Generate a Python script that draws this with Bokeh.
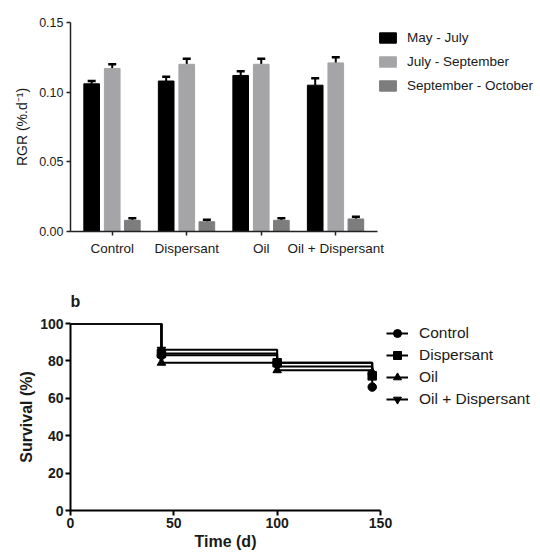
from bokeh.plotting import figure
from bokeh.layouts import column
from bokeh.models import (ColumnDataSource, FactorRange, Range1d, FixedTicker,
                          NumeralTickFormatter, Legend, LegendItem, Whisker, TeeHead)
from bokeh.transform import dodge
from bokeh.embed import file_html
from bokeh.resources import INLINE

# ---------------- data: panel a (RGR) ----------------
treatments = ["Control", "Dispersant", "Oil", "Oil + Dispersant"]
periods = ["May - July", "July - September", "September - October"]
rgr_may_july = [0.106, 0.108, 0.112, 0.105]
rgr_july_sept = [0.117, 0.120, 0.120, 0.121]
rgr_sept_oct = [0.008, 0.007, 0.008, 0.009]
err_may_july = [0.002, 0.003, 0.003, 0.005]
err_july_sept = [0.003, 0.004, 0.004, 0.004]
err_sept_oct = [0.0015, 0.0015, 0.0015, 0.0015]
rgr_ticks = [0.0, 0.05, 0.10, 0.15]

# ---------------- data: panel b (survival) ----------------
groups = ["Control", "Dispersant", "Oil", "Oil + Dispersant"]
time_d = [0, 44, 100, 146]
surv_control = [100, 83, 79, 66]
surv_dispersant = [100, 84, 79, 72]
surv_oil = [100, 79, 75, 74]
surv_oil_disp = [100, 86, 77, 72]
time_ticks = [0, 50, 100, 150]
surv_ticks = [0, 20, 40, 60, 80, 100]

FONT = "Liberation Sans"
TXT = "#1a1a1a"

# ================= panel a =================
FH1 = 209
p1 = figure(x_range=FactorRange(*treatments, range_padding=0.03),
            y_range=Range1d(0, 0.15), frame_width=307, frame_height=FH1,
            output_backend="svg", toolbar_location=None,
            min_border_left=70, min_border_right=150,
            min_border_top=22, min_border_bottom=31)
p1.outline_line_color = None
p1.xgrid.grid_line_color = None
p1.ygrid.grid_line_color = None

bar_colors = ["#000000", "#a5a5a8", "#7d7d7d"]
offsets = [-0.276, 0.0, 0.27]
series = [rgr_may_july, rgr_july_sept, rgr_sept_oct]
errors = [err_may_july, err_july_sept, err_sept_oct]

legend_items = []
for name, vals, errs, col, off in zip(periods, series, errors, bar_colors, offsets):
    src = ColumnDataSource(dict(cat=treatments, val=vals,
                                up=[v + e for v, e in zip(vals, errs)]))
    r = p1.vbar(x=dodge("cat", off, range=p1.x_range), top="val", width=0.21,
                source=src, fill_color=col, line_color=col)
    w = Whisker(base=dodge("cat", off, range=p1.x_range), lower="val", upper="up",
                source=src, line_color="black", line_width=2,
                lower_head=None,
                upper_head=TeeHead(size=8, line_color="black", line_width=2.5))
    p1.add_layout(w)
    legend_items.append(LegendItem(label=name, renderers=[r]))

leg1_h = 3 * 22 + 2 * 2
leg1 = Legend(items=legend_items, location=(0, FH1 - leg1_h - 4), margin=0,
              padding=0, border_line_color=None, background_fill_alpha=0,
              glyph_width=21, glyph_height=13, label_height=22, spacing=2,
              label_standoff=9, label_text_font=FONT,
              label_text_font_size="13.5px", label_text_color=TXT)
p1.add_layout(leg1, "right")

ya = p1.yaxis[0]
ya.ticker = FixedTicker(ticks=rgr_ticks)
ya.formatter = NumeralTickFormatter(format="0.00")
ya.axis_label = "RGR (%.d\u207b\u00b9)"
for ax in (p1.xaxis[0], ya):
    ax.axis_line_width = 1.5
    ax.axis_line_color = "#222222"
    ax.major_tick_line_width = 1.5
    ax.major_tick_line_color = "#222222"
    ax.major_tick_out = 4
    ax.major_tick_in = 0
    ax.minor_tick_line_color = None
    ax.major_label_text_font = FONT
    ax.major_label_text_color = TXT
    ax.axis_label_text_font = FONT
    ax.axis_label_text_color = TXT
    ax.axis_label_text_font_style = "normal"
ya.major_label_text_font_size = "12.5px"
ya.axis_label_text_font_size = "14px"
ya.axis_label_standoff = 6
ya.major_label_standoff = 3
p1.xaxis[0].major_label_text_font_size = "13.5px"
p1.xaxis[0].major_label_standoff = 5

# ================= panel b =================
FH2 = 187
p2 = figure(x_range=Range1d(0, 150), y_range=Range1d(0, 100),
            frame_width=310, frame_height=FH2, output_backend="svg",
            toolbar_location=None,
            min_border_left=69, min_border_right=150,
            min_border_top=61, min_border_bottom=38, title="b")
p2.outline_line_color = None
p2.xgrid.grid_line_color = None
p2.ygrid.grid_line_color = None
p2.title.text_font = FONT
p2.title.text_font_style = "bold"
p2.title.text_font_size = "16px"
p2.title.text_color = TXT
p2.title.align = "left"
p2.title.standoff = 27

markers = ["circle", "square", "triangle", "inverted_triangle"]
surv_series = [surv_control, surv_dispersant, surv_oil, surv_oil_disp]
items2 = []
for name, s, m in zip(groups, surv_series, markers):
    src = ColumnDataSource(dict(t=time_d, s=s))
    ln = p2.step(x="t", y="s", mode="after", source=src, line_color="black",
                 line_width=2)
    msrc = ColumnDataSource(dict(t=time_d[1:], s=s[1:]))
    sc = p2.scatter(x="t", y="s", marker=m, size=8.5, source=msrc,
                    fill_color="black", line_color="black")
    items2.append(LegendItem(label=name, renderers=[ln, sc]))

leg2_h = 4 * 20 + 3 * 2
leg2 = Legend(items=items2, location=(6, FH2 - leg2_h), margin=0, padding=0,
              border_line_color=None, background_fill_alpha=0,
              glyph_width=22, glyph_height=20, label_height=20, spacing=2,
              label_standoff=11, label_text_font=FONT,
              label_text_font_size="15.5px", label_text_color=TXT)
p2.add_layout(leg2, "right")

p2.xaxis[0].ticker = FixedTicker(ticks=time_ticks)
p2.yaxis[0].ticker = FixedTicker(ticks=surv_ticks)
p2.xaxis[0].axis_label = "Time (d)"
p2.yaxis[0].axis_label = "Survival (%)"
for ax in (p2.xaxis[0], p2.yaxis[0]):
    ax.axis_line_width = 2
    ax.axis_line_color = "black"
    ax.major_tick_line_width = 2
    ax.major_tick_line_color = "black"
    ax.major_tick_out = 5
    ax.major_tick_in = 0
    ax.minor_tick_line_color = None
    ax.major_label_text_font = FONT
    ax.major_label_text_font_style = "bold"
    ax.major_label_text_font_size = "14px"
    ax.major_label_text_color = TXT
    ax.axis_label_text_font = FONT
    ax.axis_label_text_font_style = "bold"
    ax.axis_label_text_font_size = "16px"
    ax.axis_label_text_color = TXT
    ax.major_label_standoff = 2
    ax.axis_label_standoff = 2

layout = column(p1, p2, spacing=0)
open("out.html", "w").write(file_html(layout, INLINE))
